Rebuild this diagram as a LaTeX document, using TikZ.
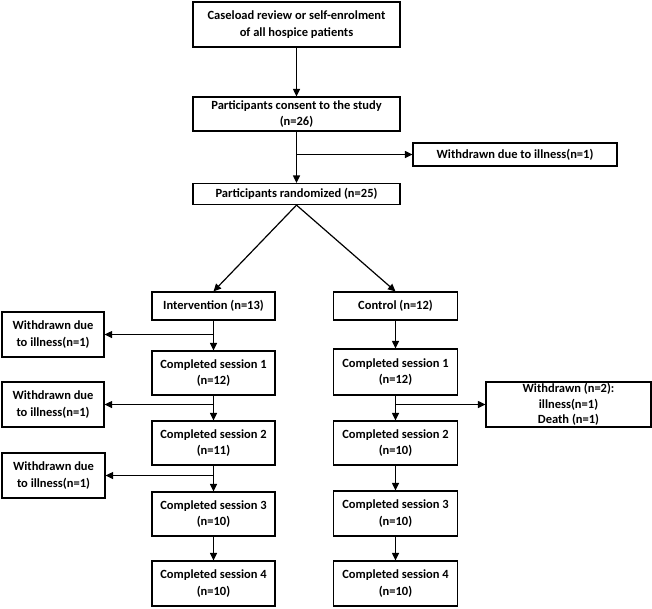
\documentclass[tikz,border=0pt]{standalone}
\usepackage{fontspec}
\setmainfont{Carlito}
\usetikzlibrary{arrows.meta}
\begin{document}
\begin{tikzpicture}[x=1pt,y=-1pt,
  box/.style={draw,line width=1.2pt,align=center,inner sep=1pt,font=\bfseries\fontsize{12.5}{16.7}\selectfont},
  arr/.style={line width=1.2pt,-{Triangle[length=7.5pt,width=7pt]}}]
\useasboundingbox (0,0) rectangle (652,608);
\node[box,minimum width=207pt,minimum height=45pt] (b1) at (296.5,24.5) {Caseload review or self-enrolment\\of all hospice patients};
\node[box,minimum width=207pt,minimum height=34pt] (b2) at (296.5,114) {Participants consent to the study\\(n=26)};
\node[box,minimum width=204pt,minimum height=23pt] (wd1) at (515,154.5) {Withdrawn due to illness(n=1)};
\node[box,minimum width=207pt,minimum height=21pt] (b3) at (296.5,194) {Participants randomized (n=25)};
\node[box,minimum width=123pt,minimum height=28pt] (int) at (213.5,306) {Intervention (n=13)};
\node[box,minimum width=124pt,minimum height=28pt] (ctl) at (395.5,306) {Control (n=12)};
\node[box,minimum width=102pt,minimum height=45pt] (L1) at (53,334.5) {Withdrawn due\\to illness(n=1)};
\node[box,minimum width=102pt,minimum height=45pt] (L2) at (53,404.5) {Withdrawn due\\to illness(n=1)};
\node[box,minimum width=103pt,minimum height=45pt] (L3) at (53.5,475.5) {Withdrawn due\\to illness(n=1)};
\node[box,minimum width=123pt,minimum height=44pt] (I1) at (213.5,373) {Completed session 1\\(n=12)};
\node[box,minimum width=123pt,minimum height=44pt] (I2) at (213.5,443) {Completed session 2\\(n=11)};
\node[box,minimum width=123pt,minimum height=44pt] (I3) at (213.5,514) {Completed session 3\\(n=10)};
\node[box,minimum width=123pt,minimum height=45pt] (I4) at (213.5,583.5) {Completed session 4\\(n=10)};
\node[box,minimum width=124pt,minimum height=46pt] (C1) at (395.5,372) {Completed session 1\\(n=12)};
\node[box,minimum width=124pt,minimum height=44pt] (C2) at (395.5,443) {Completed session 2\\(n=10)};
\node[box,minimum width=124pt,minimum height=45pt] (C3) at (395.5,513.5) {Completed session 3\\(n=10)};
\node[box,minimum width=124pt,minimum height=45pt] (C4) at (395.5,583.5) {Completed session 4\\(n=10)};
\node[box,minimum width=165pt,minimum height=45pt,font=\bfseries\fontsize{12.5}{15.5}\selectfont] (WC) at (568.5,404.5) {Withdrawn (n=2):\\illness(n=1)\\Death (n=1)};
% main column
\draw[arr] (b1) -- (b2);
\draw[arr] (b2) -- (b3);
\coordinate (j1) at (b2.south |- wd1.west);
\draw[arr] (j1) -- (wd1.west);
\draw[arr] (b3.south) -- (int.north);
\draw[arr] (b3.south) -- (ctl.north);
% intervention
\draw[arr] (int) -- (I1);
\coordinate (j2) at (int.south |- L1.east);
\draw[arr] (j2) -- (L1.east);
\draw[arr] (I1) -- (I2);
\coordinate (j3) at (I1.south |- L2.east);
\draw[arr] (j3) -- (L2.east);
\draw[arr] (I2) -- (I3);
\coordinate (j4) at (I2.south |- L3.east);
\draw[arr] (j4) -- (L3.east);
\draw[arr] (I3) -- (I4);
% control
\draw[arr] (ctl) -- (C1);
\draw[arr] (C1) -- (C2);
\coordinate (j5) at (C1.south |- WC.west);
\draw[arr] (j5) -- (WC.west);
\draw[arr] (C2) -- (C3);
\draw[arr] (C3) -- (C4);
\end{tikzpicture}
\end{document}
